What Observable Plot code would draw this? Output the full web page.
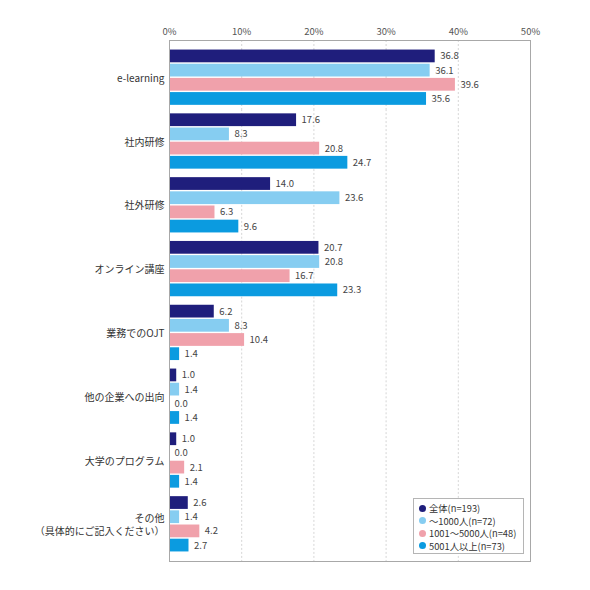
<!DOCTYPE html>
<html><head><meta charset="utf-8">
<script src="https://cdn.jsdelivr.net/npm/d3@7"></script>
<script src="https://cdn.jsdelivr.net/npm/@observablehq/plot@0.6"></script>
<style>
body{margin:0;background:#fff;font-family:"Noto Sans CJK JP","Noto Sans",sans-serif;}
#wrap{position:relative;width:590px;height:590px;}
#frame{position:absolute;box-sizing:border-box;border:1px solid #a8a8a8;pointer-events:none;}
#legend{position:absolute;left:413px;top:498px;width:111px;height:56px;box-sizing:border-box;border:1px solid #b5b5b5;background:#fff;padding:3px 0 0 5px;font-size:9.3px;color:#333;}
.row{display:flex;align-items:center;height:12.5px;white-space:nowrap;line-height:12px}
.sw{width:7px;height:7px;border-radius:50%;margin-right:3px;flex:none}
</style></head><body><div id="wrap"></div>
<script>
const categories = ["e-learning","社内研修","社外研修","オンライン講座","業務でのOJT","他の企業への出向","大学のプログラム","その他\n（具体的にご記入ください）"];
const series = ["全体(n=193)","～1000人(n=72)","1001～5000人(n=48)","5001人以上(n=73)"];
const colors = ["#1f1e7c","#86cdf1","#f0a1ab","#0b9be0"];
const valuesAll   = [36.8,17.6,14.0,20.7,6.2,1.0,1.0,2.6];
const valuesSmall = [36.1,8.3,23.6,20.8,8.3,1.4,0.0,1.4];
const valuesMid   = [39.6,20.8,6.3,16.7,10.4,0.0,2.1,4.2];
const valuesLarge = [35.6,24.7,9.6,23.3,1.4,1.4,1.4,2.7];
const xTicks = [0,10,20,30,40,50];
const gridTicks = [10,20,30,40];

const seriesValues = [valuesAll, valuesSmall, valuesMid, valuesLarge];
const data = [];
categories.forEach((c,i)=>series.forEach((s,j)=>data.push({cat:c, series:s, value:seriesValues[j][i]})));
const first = categories[0], last = categories[categories.length-1];
const grid = [];
categories.forEach(c=>gridTicks.forEach(t=>grid.push({cat:c, x:t})));

// layout parameters
const W = 590, H = 590, mT = 40, mB = 29;
const fyPadOuter = 0.083, yPadInner = 0.1, yPadOuter = 0.3;
const fyStep = (H - mT - mB) / (categories.length + 2 * fyPadOuter);
const edge = fyPadOuter * fyStep; // gap between outer facets and the frame

const gridStyle = {x:"x", fy:"cat", stroke:"#d6d6d6", strokeDasharray:"2,2"};
const mid = d=>d.cat!==first && d.cat!==last;

const chart = Plot.plot({
  width:W, height:H, marginTop:mT, marginBottom:mB, marginLeft:169, marginRight:60,
  x:{domain:[0,50]},
  y:{domain:series, paddingInner:yPadInner, paddingOuter:yPadOuter, axis:null, round:false},
  fy:{domain:categories, paddingInner:0, paddingOuter:fyPadOuter, label:null, round:false},
  color:{domain:series, range:colors},
  style:{fontFamily:'"Noto Sans CJK JP","Noto Sans",sans-serif', fontSize:"10px", color:"#333", background:"#fff"},
  marks:[
    Plot.ruleX(grid,{...gridStyle, filter:mid}),
    Plot.ruleX(grid,{...gridStyle, filter:d=>d.cat===first, insetTop:-edge}),
    Plot.ruleX(grid,{...gridStyle, filter:d=>d.cat===last, insetBottom:-edge}),
    Plot.barX(data,{fy:"cat", y:"series", x:"value", fill:"series"}),
    Plot.text(data,{fy:"cat", y:"series", x:"value", text:d=>d.value.toFixed(1), dx:5, textAnchor:"start", fill:"#444", fontSize:9.5}),
    Plot.axisX({anchor:"top", ticks:xTicks, tickFormat:d=>d+"%", tickSize:0, tickPadding:10.5, fill:"#555", fontSize:9.5, label:null}),
    Plot.axisFy({anchor:"left", tickSize:0, tickPadding:5, label:null, fill:"#333", fontSize:10, lineHeight:1.3})
  ]
});
const wrap = document.getElementById("wrap");
wrap.appendChild(chart);

// plot-area frame, placed from the chart's own scales
const xs = chart.scale("x"), fys = chart.scale("fy");
const fr = document.createElement("div");
fr.id = "frame";
const x0 = xs.apply(xs.domain[0]), x1 = xs.apply(xs.domain[1]);
const [y0, y1] = fys.range;
fr.style.left = Math.round(x0) + "px";
fr.style.top = Math.round(y0) + "px";
fr.style.width = Math.round(x1 - x0 + 1) + "px";
fr.style.height = Math.round(y1 - y0 + 1) + "px";
wrap.appendChild(fr);

const lg = document.createElement("div");
lg.id = "legend";
series.forEach((s,j)=>{
  const r = document.createElement("div"); r.className="row";
  const sw = document.createElement("span"); sw.className="sw"; sw.style.background=colors[j];
  const t = document.createElement("span"); t.textContent=s;
  r.appendChild(sw); r.appendChild(t); lg.appendChild(r);
});
wrap.appendChild(lg);
</script></body></html>
